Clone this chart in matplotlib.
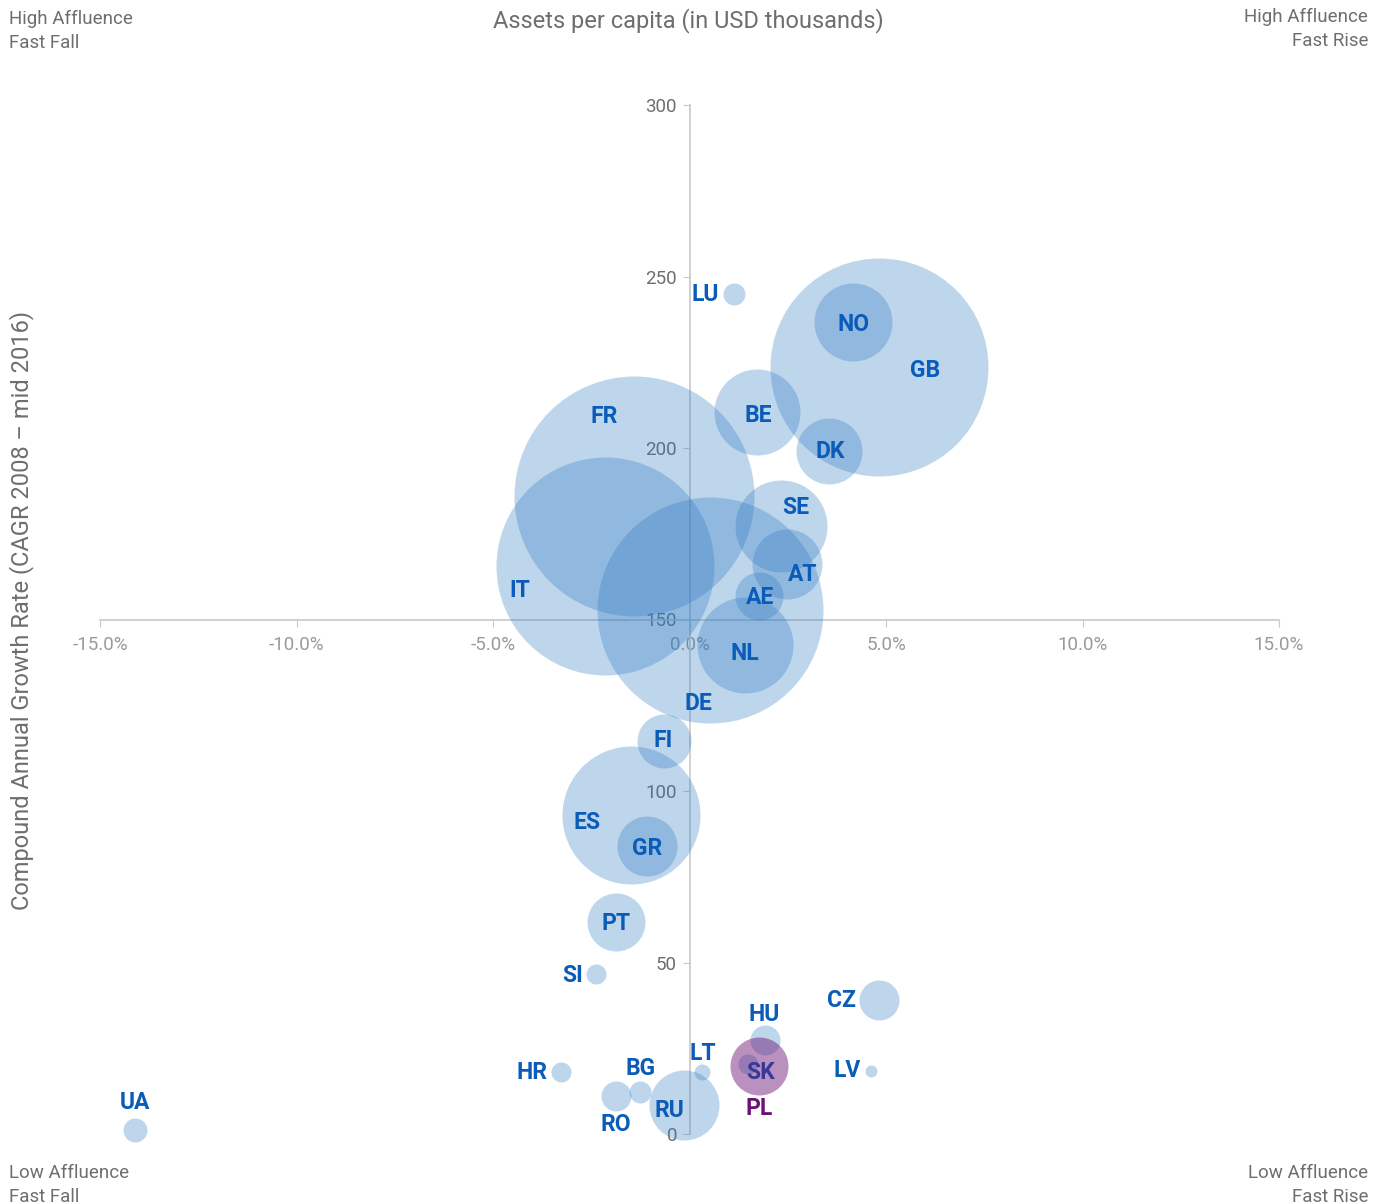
import matplotlib
matplotlib.use('Agg')
import matplotlib.pyplot as plt
import numpy as np

# country codes, growth rate (%), assets per capita, bubble radius (arbitrary units)
countries = ["GB", "FR", "DE", "IT", "ES", "BE", "NL", "SE", "NO", "AT", "DK", "RU",
             "GR", "PT", "FI", "AE", "CZ", "HU", "RO", "BG", "LU", "SI", "HR", "SK",
             "LT", "LV", "UA", "PL"]
growth = [4.81, -1.40, 0.51, -2.14, -1.50, 1.73, 1.40, 2.32, 4.17, 2.49, 3.56, -0.13,
          -1.07, -1.86, -0.66, 1.78, 4.81, 1.91, -1.88, -1.25, 1.12, -2.37, -3.28, 1.48,
          0.33, 4.63, -14.10, 1.76]
assets = [223.6, 186.0, 152.8, 165.6, 93.0, 210.5, 142.6, 177.3, 236.7, 166.2, 199.1, 8.5,
          84.0, 61.8, 114.6, 156.9, 39.0, 27.4, 11.0, 12.2, 244.9, 46.6, 18.0, 20.4,
          18.0, 18.4, 1.2, 19.8]
bubble = [109, 120, 113, 109, 69, 43, 48, 46, 39, 35, 33, 35,
          30, 29, 27, 24, 20, 15, 15, 11, 11, 10, 10, 10,
          8, 6, 12, 29]

xticks = [-15, -10, -5, 0, 5, 10, 15]
yticks = [0, 50, 100, 150, 200, 250, 300]

# label offsets in pixels from bubble centre
label_off = {"UA": (0, 27), "HR": (-29, 0), "RO": (0, -28), "BG": (0, 24), "RU": (-15, -6),
             "LT": (0, 19), "HU": (0, 26), "PL": (0, -42), "SK": (13, -8), "LV": (-24, 0),
             "CZ": (-37, 0), "SI": (-24, -1), "PT": (0, -1), "GR": (0, -3), "ES": (-43, -7),
             "FI": (0, 0), "NL": (0, -9), "DE": (-11, -94), "IT": (-86, -25), "FR": (-30, 80),
             "AE": (1, -2), "AT": (15, -11), "SE": (15, 18), "DK": (1, 0), "BE": (1, -4),
             "GB": (47, -3), "NO": (0, -2), "LU": (-28, -1)}

blue = "#2d7bc2"
purple = "#6b1375"
label_blue = "#0a5cb8"
grey = "#6e6e6e"
light = "#9a9a9a"

plt.rcParams['font.family'] = ['Roboto', 'DejaVu Sans']

fig = plt.figure(figsize=(13.83, 12.03), dpi=100)
ax = fig.add_axes([100/1383, 69/1203, 1179/1383, 1029/1203])
ax.set_xlim(-15, 15)
ax.set_ylim(0, 300)

for c, g, a, r in zip(countries, growth, assets, bubble):
  if c == "PL":
    ax.scatter(g, a, s=(2*r*0.72)**2, color=purple, alpha=0.47, linewidths=0,
               zorder=6, clip_on=False)
    col = purple
  else:
    ax.scatter(g, a, s=(2*r*0.72)**2, color=blue, alpha=0.31, linewidths=0,
               zorder=3, clip_on=False)
    col = label_blue
  dx, dy = label_off[c]
  ax.annotate(c, (g, a), xytext=(dx, dy), textcoords='offset pixels',
              ha='center', va='center', fontsize=16.5, fontweight='bold',
              color=col, zorder=7 if c == "PL" else 5)

# axes through the centre
for s in ['top', 'right']:
  ax.spines[s].set_visible(False)
ax.spines['left'].set_position(('data', 0))
ax.spines['bottom'].set_position(('data', 150))
ax.spines['left'].set_color("#c8c8c8")
ax.spines['bottom'].set_color("#c8c8c8")
ax.spines['left'].set_linewidth(1.2)
ax.spines['bottom'].set_linewidth(1.2)
ax.set_xticks(xticks)
ax.set_xticklabels(["%.1f%%" % t for t in xticks])
ax.set_yticks(yticks)
ax.set_yticklabels([str(t) for t in yticks])
ax.tick_params(axis='x', direction='out', length=5, color="#c8c8c8", pad=7,
               labelsize=13.5, labelcolor=light)
ax.tick_params(axis='y', direction='out', length=5, color="#c8c8c8", pad=4,
               labelsize=13.5, labelcolor=grey)
for t in ax.get_xticklabels() + ax.get_yticklabels():
  t.set_zorder(4)

fig.text(688/1383, 1-21/1203, "Assets per capita (in USD thousands)", ha='center',
         va='center', fontsize=17, color=grey)
fig.text(22/1383, 1-610/1203, "Compound Annual Growth Rate (CAGR 2008 – mid 2016)",
         rotation=90, ha='center', va='center', fontsize=17, color=grey)

fig.text(9/1383, 1-10/1203, "High Affluence\nFast Fall", ha='left', va='top',
         fontsize=13.5, color=grey, linespacing=1.4)
fig.text(1368/1383, 1-8/1203, "High Affluence\nFast Rise", ha='right', va='top',
         fontsize=13.5, color=grey, linespacing=1.4)
fig.text(9/1383, 1-1164/1203, "Low Affluence\nFast Fall", ha='left', va='top',
         fontsize=13.5, color=grey, linespacing=1.4)
fig.text(1368/1383, 1-1164/1203, "Low Affluence\nFast Rise", ha='right', va='top',
         fontsize=13.5, color=grey, linespacing=1.4)

fig.savefig("out.png", dpi=100)
plt.close()
